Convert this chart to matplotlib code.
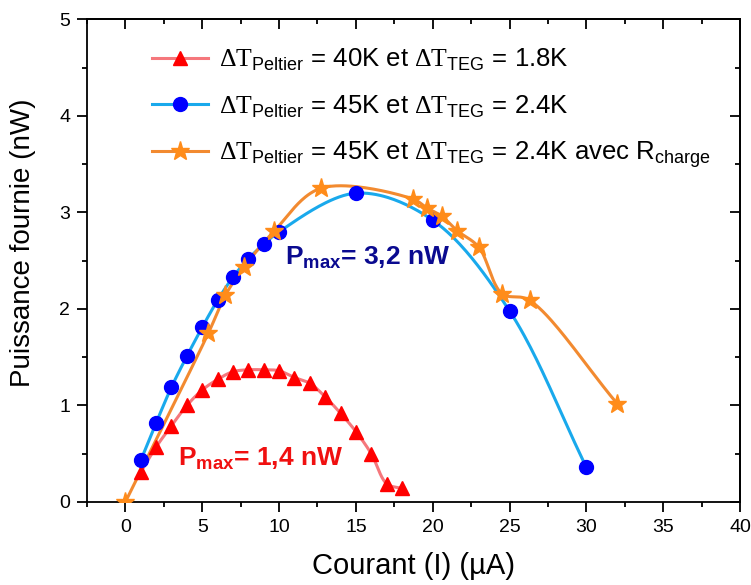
import numpy as np
import matplotlib
matplotlib.use("Agg")
import matplotlib.pyplot as plt
from matplotlib.ticker import MultipleLocator

plt.rcParams["font.family"] = ["Liberation Sans", "DejaVu Sans"]
plt.rcParams["mathtext.fontset"] = "custom"
plt.rcParams["mathtext.rm"] = "Liberation Serif"
plt.rcParams["mathtext.sf"] = "Liberation Sans"
plt.rcParams["mathtext.bf"] = "Liberation Sans:bold"

# Data
courant_40 = [1, 2, 3, 4, 5, 6, 7, 8, 9, 10, 11, 12, 13, 14, 15, 16, 17, 18]
puissance_40 = [0.31, 0.57, 0.79, 1.00, 1.16, 1.27, 1.35, 1.37, 1.37, 1.36,
                1.29, 1.23, 1.09, 0.92, 0.73, 0.50, 0.19, 0.14]

courant_45 = [1, 2, 3, 4, 5, 6, 7, 8, 9, 10, 15, 20, 25, 30]
puissance_45 = [0.43, 0.82, 1.19, 1.51, 1.81, 2.09, 2.33, 2.52, 2.67, 2.80,
                3.20, 2.92, 1.98, 0.36]

courant_rch = [0, 5.4, 6.5, 7.7, 9.7, 12.7, 18.7, 19.6, 20.6, 21.6, 23.0,
               24.5, 26.3, 32.0]
puissance_rch = [0, 1.75, 2.14, 2.43, 2.81, 3.25, 3.14, 3.05, 2.96, 2.81, 2.64,
                 2.16, 2.09, 1.02]

labels = [
    r"$\Delta\mathrm{T}_{\mathsf{Peltier}}$ = 40K et $\Delta\mathrm{T}_{\mathsf{TEG}}$ = 1.8K",
    r"$\Delta\mathrm{T}_{\mathsf{Peltier}}$ = 45K et $\Delta\mathrm{T}_{\mathsf{TEG}}$ = 2.4K",
    r"$\Delta\mathrm{T}_{\mathsf{Peltier}}$ = 45K et $\Delta\mathrm{T}_{\mathsf{TEG}}$ = 2.4K avec R$_{\mathsf{charge}}$",
]


# centripetal Catmull-Rom curve through the points (like Origin's spline line)
def smooth(x, y, n=40):
    x = np.asarray(x, float)
    y = np.asarray(y, float)
    P = np.column_stack([x / 40.0, y / 5.0 * 0.74])
    P = np.vstack([2 * P[0] - P[1], P, 2 * P[-1] - P[-2]])
    out = []
    for i in range(1, len(P) - 2):
        p0, p1, p2, p3 = P[i - 1], P[i], P[i + 1], P[i + 2]
        t0 = 0.0
        t1 = t0 + np.linalg.norm(p1 - p0) ** 0.5
        t2 = t1 + np.linalg.norm(p2 - p1) ** 0.5
        t3 = t2 + np.linalg.norm(p3 - p2) ** 0.5
        t = np.linspace(t1, t2, n)[:, None]
        a1 = (t1 - t) / (t1 - t0) * p0 + (t - t0) / (t1 - t0) * p1
        a2 = (t2 - t) / (t2 - t1) * p1 + (t - t1) / (t2 - t1) * p2
        a3 = (t3 - t) / (t3 - t2) * p2 + (t - t2) / (t3 - t2) * p3
        b1 = (t2 - t) / (t2 - t0) * a1 + (t - t0) / (t2 - t0) * a2
        b2 = (t3 - t) / (t3 - t1) * a2 + (t - t1) / (t3 - t1) * a3
        c = (t2 - t) / (t2 - t1) * b1 + (t - t1) / (t2 - t1) * b2
        out.append(c)
    c = np.vstack(out)
    return c[:, 0] * 40.0, c[:, 1] * 5.0 / 0.74


fig = plt.figure(figsize=(7.51, 5.85), dpi=100)
ax = fig.add_axes([0.1158, 0.1419, 0.8696, 0.8248])

series = [
    (courant_40, puissance_40, "#f5777c", "#ff0000", "^", 10),
    (courant_45, puissance_45, "#19a9ec", "#0000ff", "o", 10),
    (courant_rch, puissance_rch, "#f28a30", "#ff8c1a", "*", 14),
]
handles = []
for (xs, ys, lc, mc, m, ms), lab in zip(series, labels):
    sx, sy = smooth(xs, ys)
    ax.plot(sx, sy, color=lc, lw=2.2, zorder=2)
    ax.plot(xs, ys, ls="none", marker=m, ms=ms, color=mc, mec=mc, zorder=3)
    h, = ax.plot([], [], color=lc, lw=2.2, marker=m, ms=ms, mfc=mc, mec=mc)
    handles.append(h)

ax.legend(handles, labels, loc="upper left", bbox_to_anchor=(0.1, 0.943),
          frameon=False, fontsize=18.5, handlelength=2.15, handletextpad=0.45,
          labelspacing=0.76, borderpad=0, borderaxespad=0)

ax.text(10.4, 2.46, r"P$_{\mathbf{max}}$= 3,2 nW", color="#0a0a90",
        fontsize=19, fontweight="bold")
ax.text(3.44, 0.38, r"P$_{\mathbf{max}}$= 1,4 nW", color="#f01010",
        fontsize=19, fontweight="bold")

ax.set_xlim(-2.5, 40)
ax.set_ylim(0, 5)
ax.xaxis.set_major_locator(MultipleLocator(5))
ax.xaxis.set_minor_locator(MultipleLocator(2.5))
ax.yaxis.set_major_locator(MultipleLocator(1))
ax.yaxis.set_minor_locator(MultipleLocator(0.5))
ax.tick_params(which="both", direction="out", width=1.3, labelsize=14,
               pad=5, top=False, right=False)
ax.tick_params(which="major", length=7)
ax.tick_params(which="minor", length=3.5)

# inward ticks on top and right
top = ax.secondary_xaxis("top")
top.xaxis.set_major_locator(MultipleLocator(5))
top.xaxis.set_minor_locator(MultipleLocator(2.5))
top.tick_params(which="both", direction="in", width=1.3, labeltop=False)
top.tick_params(which="major", length=7)
top.tick_params(which="minor", length=3.5)
right = ax.secondary_yaxis("right")
right.yaxis.set_major_locator(MultipleLocator(1))
right.yaxis.set_minor_locator(MultipleLocator(0.5))
right.tick_params(which="both", direction="in", width=1.3, labelright=False)
right.tick_params(which="major", length=7)
right.tick_params(which="minor", length=3.5)

for s in ax.spines.values():
    s.set_linewidth(1.3)
top.spines["top"].set_linewidth(1.3)
right.spines["right"].set_linewidth(1.3)

ax.set_xlabel("Courant (I) (µA)", fontsize=21, labelpad=12)
ax.set_ylabel("Puissance fournie (nW)", fontsize=20)
ax.yaxis.set_label_coords(-0.078, 0.537)

fig.savefig("out.png", dpi=100)
